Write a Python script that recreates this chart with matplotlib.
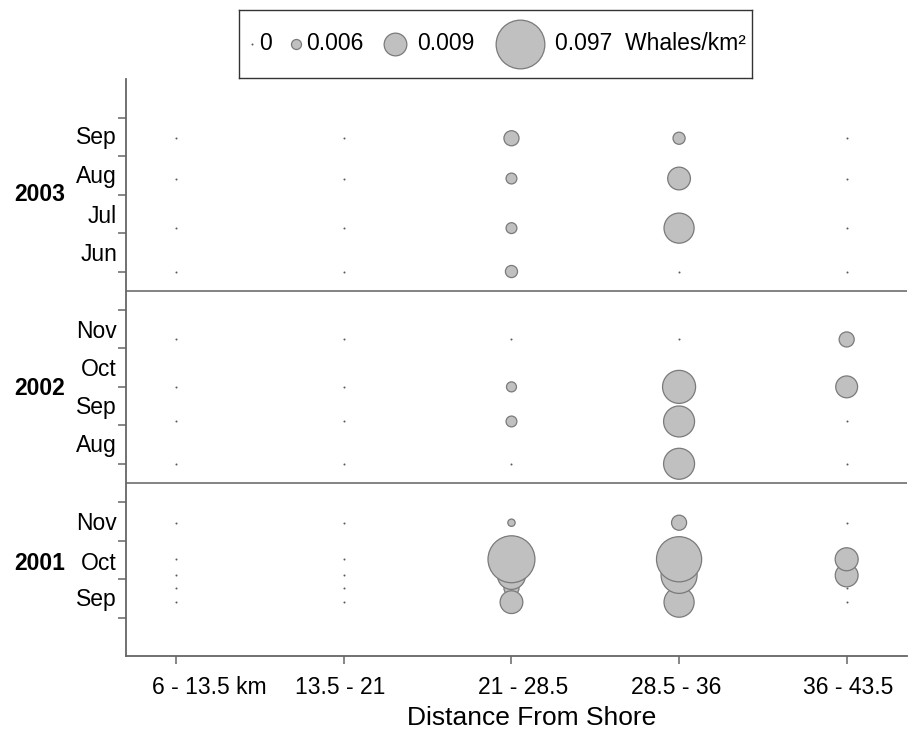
import numpy as np
import matplotlib
matplotlib.use("Agg")
import matplotlib.pyplot as plt
import calendar

plt.rcParams['font.family'] = ['Liberation Sans', 'DejaVu Sans']

# ---------------- data ----------------
distance_labels = ['6 - 13.5 km', '13.5 - 21', '21 - 28.5', '28.5 - 36', '36 - 43.5']

survey_dates = ['2001-09-13', '2001-09-24', '2001-10-04', '2001-10-17', '2001-11-15',
                '2002-08-01', '2002-09-04', '2002-10-01', '2002-11-08',
                '2003-06-01', '2003-07-05', '2003-08-14', '2003-09-15']

# whales/km^2 per survey (rows) and distance band (columns)
density_6_13 = [0, 0, 0, 0, 0, 0, 0, 0, 0, 0, 0, 0, 0]
density_13_21 = [0, 0, 0, 0, 0, 0, 0, 0, 0, 0, 0, 0, 0]
density_21_28 = [0.0091, 0.0072, 0.027, 0.091, 0.004,
                 0, 0.0062, 0.006, 0,
                 0.0065, 0.0062, 0.0062, 0.0072]
density_28_36 = [0.034, 0.0065, 0.054, 0.085, 0.0072,
                 0.037, 0.037, 0.044, 0,
                 0, 0.034, 0.0091, 0.0065]
density_36_43 = [0, 0, 0.0095, 0.0100, 0,
                 0, 0, 0.0088, 0.0072,
                 0, 0, 0, 0]

legend_values = [0, 0.006, 0.009, 0.097]
legend_labels = ['0', '0.006', '0.009', '0.097  Whales/km\u00b2']

years = ['2001', '2002', '2003']
year_months = {'2001': ['Sep', 'Oct', 'Nov'],
               '2002': ['Aug', 'Sep', 'Oct', 'Nov'],
               '2003': ['Jun', 'Jul', 'Aug', 'Sep']}

# ---------------- layout / scales ----------------
year_band = {'2001': (9, 1.0), '2002': (8, 5.0), '2003': (6, 10.0)}  # (first month, axis position)
month_label_pos = {'2001': [1.48, 2.41, 3.45],
                   '2002': [5.48, 6.47, 7.46, 8.45],
                   '2003': [10.44, 11.44, 12.46, 13.49]}
year_label_pos = {'2001': 2.41, '2002': 6.96, '2003': 12.0}
separators = [4.5, 9.5]
xlabel_offsets = [0.197, -0.02, 0.07, -0.02, 0.01]  # label shift from tick (in band units)

diam_px = [2.0, 10.0, 22.7, 48.7]  # marker diameters (px) for legend_values
W, H = 914, 732


def date_to_y(d):
    y, m, day = (int(p) for p in d.split('-'))
    first, base = year_band[str(y)]
    ndays = calendar.monthrange(y, m)[1]
    return base + (m - first) + (day - 1) / ndays


def size_of(v):
    d = np.interp(v, legend_values, diam_px) * 72 / 100.0
    return d ** 2


DPI = 100
fig = plt.figure(figsize=(W / 100, H / 100), dpi=DPI)
ax = fig.add_axes([126 / W, 1 - 656 / H, (907 - 126) / W, (656 - 79.3) / H])

face = '#c0c0c0'
edge = '#7a7a7a'
dotc = '#5a5a5a'
FS = 16.5

columns = [density_6_13, density_13_21, density_21_28, density_28_36, density_36_43]
ys = np.array([date_to_y(d) for d in survey_dates])

xs_all, ys_all, vs_all = [], [], []
for ci, col in enumerate(columns):
    for yy, v in zip(ys, col):
        xs_all.append(ci + 1)
        ys_all.append(yy)
        vs_all.append(v)
xs_all = np.array(xs_all)
ys_all = np.array(ys_all)
vs_all = np.array(vs_all)

zero = vs_all == 0
ax.scatter(xs_all[zero], ys_all[zero], s=size_of(0), color=dotc, linewidths=0, zorder=3)
nz = ~zero
order = np.argsort(vs_all[nz])
ax.scatter(xs_all[nz][order], ys_all[nz][order], s=size_of(vs_all[nz][order]),
           facecolor=face, edgecolor=edge, linewidths=0.9, zorder=4)

for s in separators:
    ax.axhline(s, color='#7a7a7a', lw=1.3, zorder=2)

ax.set_xlim(0.70, 5.36)
ax.set_ylim(0, 15)
ax.set_xticks(range(1, 6))
ax.set_xticklabels([])
ax.set_yticks(range(1, 15))
ax.set_yticklabels([])
ax.tick_params(axis='both', direction='out', length=6, width=1.1, color='#666666')

xtr = ax.get_xaxis_transform()
for i, (lab, off) in enumerate(zip(distance_labels, xlabel_offsets)):
    ax.text(i + 1 + off, -(688 - 656) / (656 - 79.3), lab, transform=xtr,
            ha='center', va='center', fontsize=FS)
fig.text(532 / W, 1 - 718 / H, 'Distance From Shore', ha='center', va='center', fontsize=19)

for sp in ['top', 'right']:
    ax.spines[sp].set_visible(False)
for sp in ['left', 'bottom']:
    ax.spines[sp].set_color('#666666')
    ax.spines[sp].set_linewidth(1.3)

tr = ax.get_yaxis_transform()
for yr in years:
    for lab, yp in zip(year_months[yr], month_label_pos[yr]):
        ax.text(-0.0115, yp, lab, transform=tr, ha='right', va='center', fontsize=FS)
    ax.text(-0.1434, year_label_pos[yr], yr, transform=tr, ha='left', va='center',
            fontsize=FS, fontweight='bold')

# legend (drawn in its own pixel-unit box)
lx0, lx1, ly0, ly1 = 239, 752, 10, 78
lax = fig.add_axes([lx0 / W, 1 - ly1 / H, (lx1 - lx0) / W, (ly1 - ly0) / H])
lax.set_xlim(lx0, lx1)
lax.set_ylim(ly1, ly0)
lax.set_xticks([])
lax.set_yticks([])
for sp in lax.spines.values():
    sp.set_color('#333333')
    sp.set_linewidth(1.0)
marker_x = [252, 296, 395, 520]
text_x = [259, 306, 417, 555]
ly = 44
for v, mx, tx, lab in zip(legend_values, marker_x, text_x, legend_labels):
    if v == 0:
        lax.scatter([mx], [ly], s=size_of(v), color=dotc, linewidths=0)
    else:
        lax.scatter([mx], [ly], s=size_of(v), facecolor=face, edgecolor=edge, linewidths=0.9)
    lax.text(tx, ly, lab, ha='left', va='center', fontsize=FS)

fig.savefig('out.png', dpi=DPI)
